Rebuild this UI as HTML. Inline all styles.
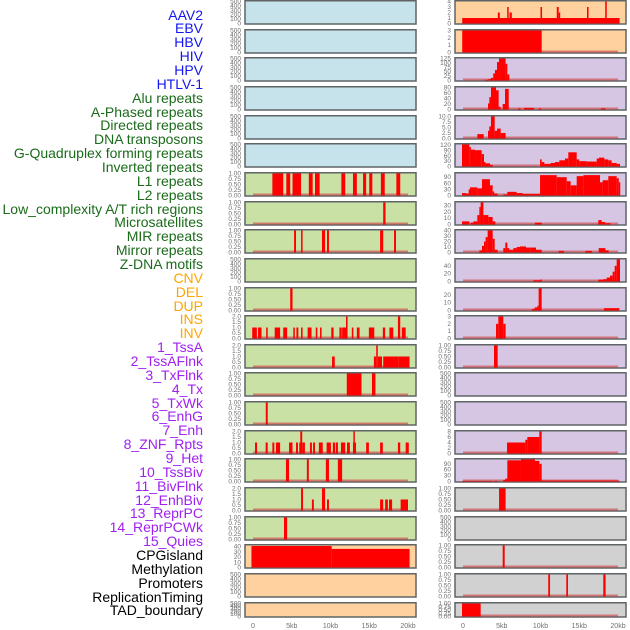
<!DOCTYPE html>
<html><head><meta charset="utf-8">
<style>
html,body{margin:0;padding:0;background:#fff;}
#wrap{position:relative;width:630px;height:630px;overflow:hidden;font-family:"Liberation Sans",sans-serif;}
.lab{position:absolute;right:427px;font-size:14px;line-height:14px;white-space:nowrap;text-align:right;}
svg{position:absolute;left:0;top:0;}
</style></head>
<body>
<div id="wrap">
<div id="labels"></div>
<svg id="chart" width="630" height="630"></svg>
</div>
<script>
// ---- data ----
const trackNames = ["AAV2","EBV","HBV","HIV","HPV","HTLV-1","Alu repeats","A-Phased repeats","Directed repeats","DNA transposons","G-Quadruplex forming repeats","Inverted repeats","L1 repeats","L2 repeats","Low_complexity A/T rich regions","Microsatellites","MIR repeats","Mirror repeats","Z-DNA motifs","CNV","DEL","DUP","INS","INV","1_TssA","2_TssAFlnk","3_TxFlnk","4_Tx","5_TxWk","6_EnhG","7_Enh","8_ZNF_Rpts","9_Het","10_TssBiv","11_BivFlnk","12_EnhBiv","13_ReprPC","14_ReprPCWk","15_Quies","CPGisland","Methylation","Promoters","ReplicationTiming","TAD_boundary"];
const trackGroupCounts = [6,13,5,15,5];
const groupColors = ["#1515ee","#1a6b1a","#ffa500","#a020f0","#000000"];
const xTickLabels = ["0","5kb","10kb","15kb","20kb"];
const xTickValues = [0,5,10,15,20];

const T500 = ["0","100","200","300","400","500"];
const T1 = ["0.00","0.25","0.50","0.75","1.00"];
const T2 = ["0.0","0.5","1.0","1.5","2.0"];

const leftBg = ["b","b","b","b","b","b","g","g","g","g","g","g","g","g","g","g","g","g","g","o","o","o"];
const rightBg = ["o","o","p","p","p","p","p","p","p","p","p","p","p","p","p","p","p","g2","g2","g2","g2","g2"];

const leftTicks = [T500,T500,T500,T500,T500,T500,T1,T1,T1,T500,T1,T2,T2,T1,T1,T2,T1,T2,T1,["0","10","20","30","40"],T500,T500];
const leftYmax = [500,500,500,500,500,500,1,1,1,500,1,2,2,1,1,2,1,2,1,42,500,500];
const leftSegments = [
 [],[],[],[],[],[],
 [[2.5,3.9,1],[4.3,4.8,1],[5.1,6.2,1],[7.2,7.7,1],[8.0,8.6,1],[11.4,11.9,1],[12.9,13.4,1],[14.2,14.6,1],[15.0,15.4,1],[16.5,17.0,1],[18.5,19.0,1]],
 [[16.8,17.1,1]],
 [[5.3,5.55,1],[6.2,6.4,1],[8.9,9.3,1],[9.55,9.8,1],[16.4,16.8,1],[18.2,18.45,1]],
 [],
 [[4.8,5.1,1]],
 [[-0.1,0.5,1],[0.65,1.1,1],[1.7,1.9,1],[2.8,3.5,1],[3.9,4.4,1],[5.2,5.4,1],[5.6,5.85,1],[6.2,6.4,1],[7.05,7.55,1],[8.1,8.3,1],[8.65,8.85,1],[10.1,10.4,1],[11.15,11.45,1],[11.5,12.0,1],[12.0,12.2,2],[12.75,12.95,1],[13.4,13.75,1],[14.95,15.65,1],[16.75,17.05,1],[17.6,18.1,1],[18.7,19.0,2],[19.2,19.7,1]],
 [[10.2,10.55,1],[15.6,15.9,1],[15.9,16.1,2],[16.1,16.65,1],[16.8,18.8,1],[18.8,20.2,1]],
 [[12.1,14.0,1],[15.35,15.8,1]],
 [[1.65,1.9,1]],
 [[0.26,0.52,1],[1.63,1.9,1],[2.5,2.75,1],[2.96,3.5,1],[4.65,5.1,1],[5.55,5.8,1],[5.97,6.1,1],[6.1,6.35,2],[6.35,6.7,1],[7.35,7.6,1],[7.75,8.0,1],[8.5,9.0,1],[9.5,10.05,1],[10.3,10.6,1],[10.7,10.96,1],[11.35,11.9,1],[12.13,12.5,1],[12.9,12.95,1],[12.95,13.1,2],[13.1,13.25,1],[14.6,14.95,1],[16.4,16.75,1],[18.7,19.0,1],[19.7,20.1,1]],
 [[4.25,4.65,1],[6.95,7.2,1],[9.4,9.8,1],[10.95,11.5,1]],
 [[6.2,6.45,2],[7.6,7.85,1],[8.9,9.3,2],[9.55,9.8,1],[16.4,16.8,1],[17.05,17.4,1],[17.55,17.95,1],[19.05,20.0,1]],
 [[4.0,4.4,1]],
 [[-0.2,10.15,41],[10.15,20.2,35.5]],
 [],[]
];

const rightTicks = [["0","1","2","3","4"],["0","1","2","3"],["0","25","50","75","100","125"],["0","20","40","60","80"],["0.0","2.5","5.0","7.5","10.0"],["0","30","60","90","120"],["0","30","60","90"],["0","10","20","30"],["0","10","20","30","40"],["0","20","40"],["0","10","20"],["0","1","2","3"],T1,T500,T500,["0","2","4","6","8"],["0","30","60","90"],T1,T500,T1,T1,T1];
const rightTickValues = [[0,1,2,3,4],[0,1,2,3],[0,25,50,75,100,125],[0,20,40,60,80],[0,2.5,5,7.5,10],[0,30,60,90,120],[0,30,60,90],[0,10,20,30],[0,10,20,30,40],[0,20,40],[0,10,20],[0,1,2,3],null,null,null,[0,2,4,6,8],[0,30,60,90],null,null,null,null,null];
const rightYmax = [4,3,125,80,10,124,108,35,40,56,28,3,1,500,500,8,112,1,500,1,1,1];
const rightSegments = [
 [[-0.1,20.2,1],[4.5,4.75,2],[5.7,5.8,3],[6.0,6.3,2],[10.0,10.2,3],[12.1,12.35,3],[12.35,12.5,2],[16.0,16.2,3],[18.35,18.55,4]],
 [[-0.1,10.15,3]],
 [[2.84,3.27,4],[3.27,3.61,8],[3.61,3.9,15],[3.9,4.13,40],[4.13,4.39,60],[4.39,4.65,105],[4.65,5.5,125],[5.5,5.72,95],[5.72,5.98,35]],
 [[3.23,3.4,22],[3.4,3.61,45],[3.61,4.26,80],[4.26,4.6,70],[4.6,4.86,10],[5.12,5.42,20],[5.42,5.9,75],[7.1,7.44,4],[7.87,9.16,6],[9.76,10.1,4],[17.8,18.4,4]],
 [[1.85,2.67,2],[3.23,3.4,3.5],[3.4,3.61,5.5],[3.61,4.09,10],[4.09,4.39,3.5],[4.39,4.86,4.5],[4.86,5.5,2.5]],
 [[-0.13,0.82,125],[0.82,0.99,110],[0.99,1.55,95],[1.55,2.41,92],[2.41,2.71,70],[2.71,2.92,25],[2.92,3.48,18],[3.48,3.83,10],[9.94,10.15,40],[10.15,10.5,25],[10.5,11.31,15],[11.31,11.87,20],[11.87,12.43,25],[12.43,13.16,35],[13.16,13.59,45],[13.59,14.67,80],[14.67,15.01,40],[15.01,15.96,30],[15.96,17.25,28],[17.25,17.55,45],[17.55,18.24,50],[18.24,18.75,40],[18.75,19.18,35],[19.18,19.83,20],[19.83,20.26,15]],
 [[-0.13,0.39,12],[0.39,0.73,10],[0.73,0.9,30],[0.9,1.85,40],[1.85,2.45,35],[2.45,3.48,80],[3.48,3.83,50],[3.83,4.0,20],[4.0,4.47,10],[5.2,5.72,5],[5.72,6.92,18],[6.92,7.7,12],[7.7,9.94,8],[9.94,10.71,100],[10.71,12.09,100],[12.09,13.38,90],[13.38,13.89,70],[13.89,14.67,50],[14.67,15.53,95],[15.53,17.68,100],[17.68,18.02,65],[18.02,18.75,75],[18.75,19.83,95],[19.83,20.1,85],[20.1,20.26,65]],
 [[-0.13,0.82,5],[0.99,1.34,3],[1.34,1.85,5],[1.85,2.11,15],[2.11,2.28,28],[2.28,2.63,35],[2.63,3.27,15],[3.27,3.83,12],[3.83,4.17,5],[9.29,10.15,3],[17.46,17.89,7],[17.89,18.32,4],[18.32,19.05,2]],
 [[2.11,2.45,4],[2.45,2.71,12],[2.71,2.92,20],[2.92,3.18,28],[3.18,3.83,40],[3.83,4.09,25],[4.09,4.47,5],[5.2,5.46,8],[5.46,5.72,18],[5.72,5.98,8],[5.98,6.5,5],[6.5,6.92,8],[6.92,7.35,10],[7.35,8.13,11],[8.13,8.73,9],[8.73,9.42,9],[9.42,10.15,5],[12.34,13.03,3],[15.78,16.65,3],[17.51,18.37,8],[18.37,18.8,4]],
 [[9.08,9.94,3],[9.94,10.15,5],[17.46,18.11,5],[18.11,18.54,6],[18.54,18.97,10],[18.97,19.31,15],[19.31,19.57,25],[19.57,19.83,40],[19.83,20.26,56]],
 [[8.9,9.25,2],[9.25,9.59,4],[9.59,9.76,6],[9.76,10.15,28],[18.2,20.18,3]],
 [[4.26,4.56,2],[4.56,5.2,3],[5.2,5.5,2]],
 [[4.0,4.47,1]],
 [],[],
 [[5.68,8.04,4],[8.04,8.3,5],[8.3,9.85,6],[9.85,10.15,8]],
 [[-0.13,3.83,3],[4.0,4.47,3],[5.2,5.46,8],[5.46,5.72,15],[5.72,7.48,108],[7.48,9.29,112],[9.29,9.85,105],[9.85,10.15,90],[10.15,20.18,5]],
 [[4.65,5.5,1]],
 [],
 [[5.12,5.38,1]],
 [[11.0,11.23,1],[13.33,13.55,1],[18.1,18.4,1]],
 [[-0.13,2.28,1]]
];

// ---- rendering ----
const NS = "http://www.w3.org/2000/svg";
const svg = document.getElementById("chart");
const bgColors = {b:"#c6e3eb",g:"#c9e1a5",o:"#ffd19e",p:"#d6c6e3",g2:"#d1d1d1"};
function mk(tag, attrs, parent){const e=document.createElementNS(NS,tag);for(const k in attrs)e.setAttribute(k,attrs[k]);(parent||svg).appendChild(e);return e;}

// labels
const labWrap = document.getElementById("labels");
let gi=0, gc=0;
trackNames.forEach((n,i)=>{
  while(gc>=trackGroupCounts[gi]){gi++;gc=0;}
  gc++;
  const d=document.createElement("div");
  d.className="lab";
  
  
  d.style.top=(15+i*13.86-7.5)+"px";
  d.style.color=groupColors[gi];
  d.textContent=n;
  labWrap.appendChild(d);
});

function panelTop(i){return Math.round(i*28.65);}
function panelH(i){return i===21?15:24;}

function drawColumn(x0, bgs, ticks, tickVals, ymaxs, segs, side){
  const w=171, kb0=x0+8, kbScale=7.75;
  const xs = kb => kb0 + kb*kbScale;
  for(let i=0;i<22;i++){
    const top=panelTop(i), h=panelH(i);
    const g=mk("g",{});
    
    
    const r=mk("rect",{x:x0,y:top+0.75,width:w,height:h-0.75,fill:bgColors[bgs[i]],stroke:"#5f6466","stroke-width":1.5},g);
    
    
    const ymax=ymaxs[i];
    const yb=top+h-0.5, yt=top+1.5;
    const ys = v => yb - (Math.min(v,ymax)/ymax)*(yb-yt);
    // ticks
    const tl=ticks[i];
    const tv = tickVals && tickVals[i] ? tickVals[i] : tl.map(s=>parseFloat(s));
    tl.forEach((s,k)=>{
      const t=mk("text",{x:x0-4,y:ys(tv[k])+2,"font-size":6.5,fill:"#707070","text-anchor":"end","font-family":"Liberation Sans, sans-serif"},g);
      
      
      t.textContent=s;
    });
    const sg=segs[i];
    if(sg.length){
      const bl=mk("line",{x1:xs(0),x2:xs(20),y1:yb-1,y2:yb-1,stroke:"#d05050","stroke-width":2,"stroke-opacity":0.7},g);
      
      
    }
    sg.forEach(s=>{
      const xa=xs(s[0]), xb=xs(s[1]);
      const y=ys(s[2]);
      const b=mk("rect",{x:xa,y:y,width:Math.max(1.5,xb-xa),height:yb-y,fill:"#ff0000"},g);
      
      
    });
  }
  xTickValues.forEach((v,k)=>{
    const t=mk("text",{x:xs(v),y:628,"font-size":7,fill:"#707070","text-anchor":"middle","font-family":"Liberation Sans, sans-serif"});
    
    
    t.textContent=xTickLabels[k];
  });
}
drawColumn(245, leftBg, leftTicks, null, leftYmax, leftSegments, 'left');
drawColumn(455, rightBg, rightTicks, rightTickValues, rightYmax, rightSegments, 'right');
</script>
</body></html>
